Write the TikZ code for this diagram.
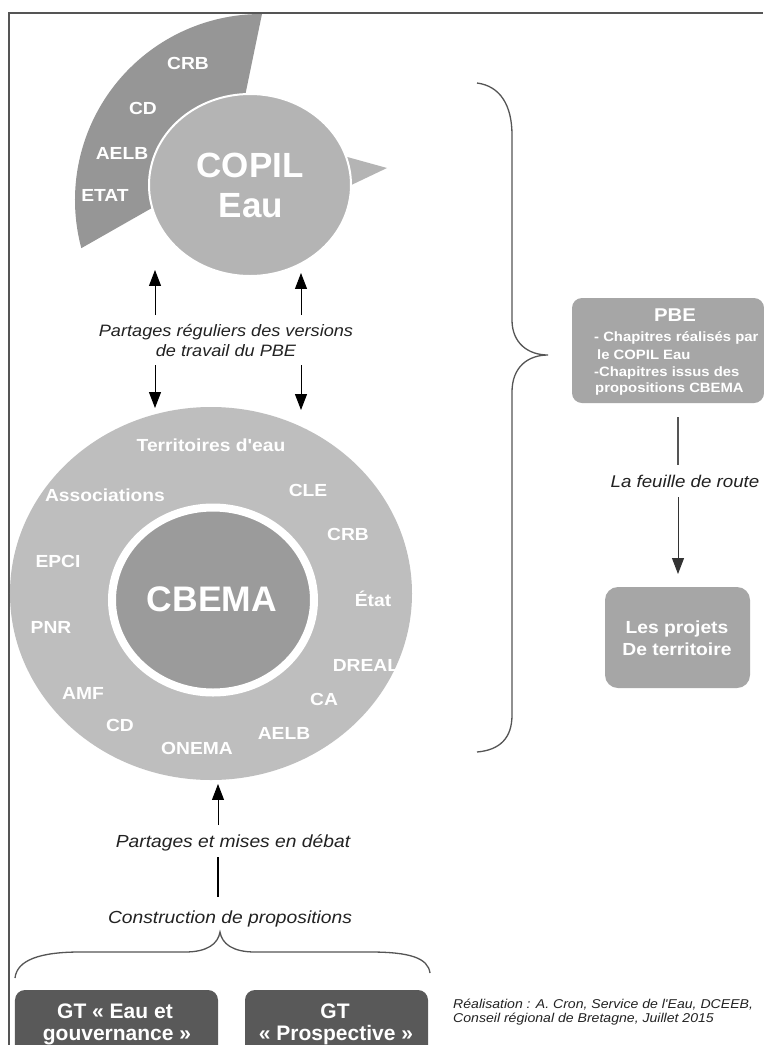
\documentclass[tikz,border=0pt]{standalone}
\usepackage{fontspec}
\setmainfont{Liberation Sans}
\newfontfamily\wide{Liberation Sans}[FakeStretch=1.1]
\newfontfamily\plain{Liberation Sans}
\usetikzlibrary{arrows.meta,shapes.geometric}
\definecolor{sectorgray}{HTML}{969696}
\definecolor{copilgray}{HTML}{B4B4B4}
\definecolor{ringgray}{HTML}{BEBEBE}
\definecolor{coregray}{HTML}{9B9B9B}
\definecolor{boxgray}{HTML}{A6A6A6}
\definecolor{darkbox}{HTML}{595959}
\definecolor{linegray}{HTML}{555555}
\definecolor{textgray}{HTML}{222222}
\begin{document}
\begin{tikzpicture}[x=1bp,y=-1bp,
  wlab/.style={text=white, font=\wide\bfseries\fontsize{17.5bp}{20bp}\selectfont, inner sep=0pt, anchor=base},
  bigw/.style={text=white, font=\plain\bfseries\fontsize{35bp}{40bp}\selectfont, inner sep=0pt, anchor=base},
  itlab/.style={text=textgray, font=\wide\itshape\fontsize{16.5bp}{20bp}\selectfont, inner sep=0pt, anchor=base},
  pbetxt/.style={text=white, font=\wide\bfseries\fontsize{13.5bp}{15bp}\selectfont, inner sep=0pt, anchor=base west},
  boxtxt/.style={text=white, font=\wide\bfseries\fontsize{17.5bp}{20bp}\selectfont, inner sep=0pt, anchor=base},
  gttxt/.style={text=white, font=\plain\bfseries\fontsize{21bp}{24bp}\selectfont, inner sep=0pt, anchor=base},
  arr/.style={-{Triangle[length=16pt,width=12pt]}, line width=1bp, black},
  conn/.style={line width=1.3bp, linegray},
  brace/.style={line width=1.3bp, linegray},
  roundbox/.style={rectangle, rounded corners=11bp, inner sep=0pt, outer sep=0pt},
]
\clip (0,0) rectangle (764,1045);
\fill[white] (0,0) rectangle (764,1045);
% frame
\draw[linegray, line width=1.5bp] (9,1045) -- (9,13) -- (763,13);

% sector behind COPIL
\fill[sectorgray] (261,200) ++(165:186) arc[start angle=165, end angle=270.3, radius=186]
  -- (238,130) -- (180,192) -- cycle;
\node[wlab] (s-crb) at (188,69.5) {CRB};
\node[wlab] (s-cd) at (143,114.5) {CD};
\node[wlab] (s-aelb) at (122,159.5) {AELB};
\node[wlab] (s-etat) at (105,201.5) {ETAT};

% COPIL callout
\fill[copilgray] (340,155) -- (387,168) -- (345,188) -- cycle;
\node[ellipse, minimum width=202bp, minimum height=182bp, inner sep=0pt, fill=copilgray, draw=white, line width=2bp] (copil) at (250,185) {};
\node[bigw] (copil-t1) at (250,177) {COPIL};
\node[bigw] (copil-t2) at (251,217) {Eau};

% big circle
\node[ellipse, minimum width=402bp, minimum height=373bp, inner sep=0pt, fill=ringgray] (ring) at (211,593.5) {};
\node[ellipse, minimum width=202bp, minimum height=185bp, inner sep=0pt, fill=coregray, draw=white, line width=8bp] (core) at (213,600) {};
\node[bigw, font=\plain\bfseries\fontsize{35.5bp}{40bp}\selectfont] (cbema) at (212,611.5) {CBEMA};

\node[wlab] (r-terr) at (211,451.5) {Territoires d'eau};
\node[wlab] (r-assoc) at (105,501.3) {Associations};
\node[wlab] (r-cle) at (308,496.5) {CLE};
\node[wlab] (r-crb) at (348,540.3) {CRB};
\node[wlab] (r-epci) at (58,567.3) {EPCI};
\node[wlab] (r-etat) at (373,606) {État};
\node[wlab] (r-pnr) at (51,633.3) {PNR};
\node[wlab] (r-dreal) at (366,671.3) {DREAL};
\node[wlab] (r-ca) at (324,705.3) {CA};
\node[wlab] (r-amf) at (83,699.3) {AMF};
\node[wlab] (r-cd) at (120,731.3) {CD};
\node[wlab] (r-aelb) at (284,739.3) {AELB};
\node[wlab] (r-onema) at (197,754.3) {ONEMA};

% arrows between COPIL and CBEMA
\node[itlab] (share1) at (226,336) {Partages réguliers des versions};
\node[itlab] (share2) at (226,356) {de travail du PBE};
\coordinate (a1s) at (155,315); \coordinate (a1e) at (155,270);
\coordinate (a2s) at (301,315); \coordinate (a2e) at (301,273);
\coordinate (a3s) at (155,365); \coordinate (a3e) at (155,408);
\coordinate (a4s) at (301,365); \coordinate (a4e) at (301,410);
\draw[arr] (a1s) -- (a1e);
\draw[arr] (a2s) -- (a2e);
\draw[arr] (a3s) -- (a3e);
\draw[arr] (a4s) -- (a4e);

% right brace
\draw[brace] (477,83) .. controls (500,86) and (512,105) .. (512,135) -- (512,320)
  .. controls (512,343) and (528,355) .. (548,355)
  .. controls (528,355) and (512,367) .. (512,392) -- (512,715)
  .. controls (512,738) and (500,750) .. (477,752);

% PBE box
\node[roundbox, rounded corners=10bp, fill=boxgray, minimum width=192bp, minimum height=105bp] (pbe) at (668,350.5) {};
\node[boxtxt, font=\wide\bfseries\fontsize{18.5bp}{20bp}\selectfont] (pbe-title) at (675,321.7) {PBE};
\node[pbetxt] (pbe-l1) at (594,341.5) {- Chapitres réalisés par};
\node[pbetxt] (pbe-l2) at (597,359) {le COPIL Eau};
\node[pbetxt] (pbe-l3) at (594,376.7) {-Chapitres issus des};
\node[pbetxt] (pbe-l4) at (595,392.3) {propositions CBEMA};

% feuille de route
\coordinate (f1s) at (678,417); \coordinate (f1e) at (678,465);
\draw[conn] (f1s) -- (f1e);
\node[itlab, font=\wide\itshape\fontsize{17bp}{20bp}\selectfont] (feuille) at (685,487) {La feuille de route};
\coordinate (f2s) at (678,497); \coordinate (f2e) at (678,574);
\draw[arr, linegray!60!black] (f2s) -- (f2e);

% projets box
\node[roundbox, rounded corners=13bp, fill=boxgray, minimum width=145bp, minimum height=101bp] (projets) at (677.5,637.5) {};
\node[boxtxt] (proj-l1) at (677,633) {Les projets};
\node[boxtxt] (proj-l2) at (677,655) {De territoire};

% bottom arrow and labels
\node[itlab, font=\wide\itshape\fontsize{17.5bp}{20bp}\selectfont] (debat) at (233,847) {Partages et mises en débat};
\coordinate (b1s) at (218,825); \coordinate (b1e) at (218,784);
\draw[arr] (b1s) -- (b1e);
\coordinate (b2s) at (218,857); \coordinate (b2e) at (218,897);
\draw[line width=1.2bp, black] (b2s) -- (b2e);
\node[itlab, font=\wide\itshape\fontsize{17.5bp}{20bp}\selectfont] (constr) at (230,923) {Construction de propositions};

% bottom brace
\draw[brace] (15,978) .. controls (17,960) and (40,952) .. (80,952) -- (185,952)
  .. controls (207,952) and (218,944) .. (220,932)
  .. controls (222,944) and (233,952) .. (255,952) -- (370,952)
  .. controls (410,952) and (428,958) .. (430,973);

% GT boxes
\node[roundbox, rounded corners=10bp, fill=darkbox, minimum width=203bp, minimum height=100bp, anchor=north] (gt1) at (116.5,990) {};
\node[roundbox, rounded corners=10bp, fill=darkbox, minimum width=183bp, minimum height=100bp, anchor=north] (gt2) at (336.5,990) {};
\node[gttxt] (gt1-l1) at (115,1018) {GT « Eau et};
\node[gttxt] (gt1-l2) at (117,1040) {gouvernance »};
\node[gttxt] (gt2-l1) at (335,1018) {GT};
\node[gttxt] (gt2-l2) at (336,1040) {« Prospective »};

% credit
\node[text=textgray, font=\wide\itshape\fontsize{12.8bp}{14.5bp}\selectfont, inner sep=0pt, anchor=base west] (credit1) at (453,1008) {Réalisation : A. Cron, Service de l'Eau, DCEEB,};
\node[text=textgray, font=\wide\itshape\fontsize{12.8bp}{14.5bp}\selectfont, inner sep=0pt, anchor=base west] (credit2) at (453,1022.5) {Conseil régional de Bretagne, Juillet 2015};
\end{tikzpicture}
\end{document}
